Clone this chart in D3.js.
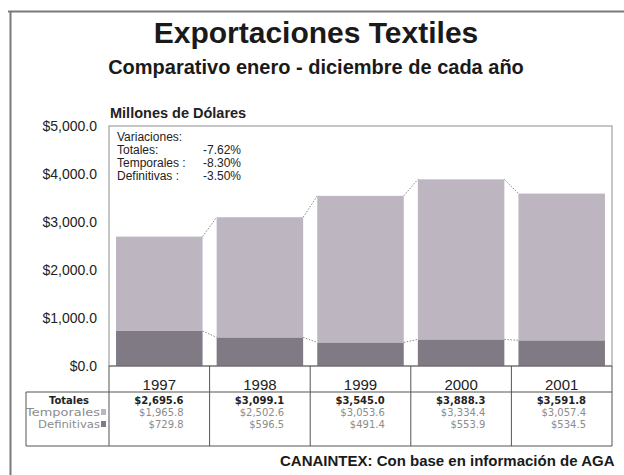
<!DOCTYPE html>
<html>
<head>
<meta charset="utf-8">
<script src="https://cdn.jsdelivr.net/npm/d3@7"></script>
<style>
  html, body { margin: 0; padding: 0; background: #fff; overflow: hidden; }
  svg { display: block; font-family: Arial, "Liberation Sans", sans-serif; }
</style>
</head>
<body>
<svg id="chart" width="624" height="475"></svg>
<script>
// Exportaciones textiles, millones de dólares
const years = ["1997", "1998", "1999", "2000", "2001"];
const temporales = [1965.8, 2502.6, 3053.6, 3334.4, 3057.4];
const definitivas = [729.8, 596.5, 491.4, 553.9, 534.5];
const totales = [2695.6, 3099.1, 3545.0, 3888.3, 3591.8];
const yTicks = [0, 1000, 2000, 3000, 4000, 5000];
const variaciones = [
  ["Totales:", "-7.62%"],
  ["Temporales :", "-8.30%"],
  ["Definitivas :", "-3.50%"]
];

const colTemp = "#bdb6c0";
const colDef = "#807a84";
const ink = "#1a1a1a";
const grayInk = "#8c8c8c";
const tableFont = "'DejaVu Sans', Verdana, sans-serif";

const svg = d3.select("#chart");

const plot = { left: 109, right: 612, top: 126, bottom: 366 };

const x = d3.scaleBand()
  .domain(years)
  .range([plot.left, plot.right])
  .paddingInner(0.14)
  .paddingOuter(0.07);

const y = d3.scaleLinear()
  .domain([0, 5000])
  .range([plot.bottom, plot.top]);

const fmtMoney = d => "$" + d3.format(",.1f")(d);

// outer frame
svg.append("line").attr("x1", 8).attr("x2", 624).attr("y1", 11.5).attr("y2", 11.5)
  .attr("stroke", "#7a7a7a").attr("stroke-width", 2);
svg.append("line").attr("x1", 10.5).attr("x2", 10.5).attr("y1", 11).attr("y2", 475)
  .attr("stroke", "#7a7a7a").attr("stroke-width", 2);

// titles
svg.append("text").attr("x", 316).attr("y", 43).attr("text-anchor", "middle")
  .attr("font-size", 30).attr("font-weight", "bold").attr("fill", ink)
  .text("Exportaciones Textiles");
svg.append("text").attr("x", 316).attr("y", 74).attr("text-anchor", "middle")
  .attr("font-size", 20).attr("font-weight", "bold").attr("fill", ink)
  .text("Comparativo enero - diciembre de cada año");
svg.append("text").attr("x", 110).attr("y", 118)
  .attr("font-size", 14.5).attr("font-weight", "bold").attr("fill", "#222")
  .text("Millones de Dólares");

// plot area frame
svg.append("rect")
  .attr("x", plot.left).attr("y", plot.top)
  .attr("width", plot.right - plot.left).attr("height", plot.bottom - plot.top)
  .attr("fill", "#fff").attr("stroke", "#a0a0a0").attr("stroke-width", 1.2);

// y axis labels
const yAxis = d3.axisLeft(y).tickValues(yTicks).tickFormat(fmtMoney).tickSize(0).tickPadding(12);
const gy = svg.append("g").attr("transform", `translate(${plot.left},0)`).call(yAxis);
gy.select(".domain").remove();
gy.selectAll("text").attr("font-size", 14).attr("fill", "#222")
  .attr("font-family", "Arial, 'Liberation Sans', sans-serif");

// stacked bars
const rows = years.map((yr, i) => ({ yr, def: definitivas[i], temp: temporales[i] }));
const bars = svg.append("g");
bars.selectAll("rect.def").data(rows).join("rect")
  .attr("class", "def")
  .attr("x", d => x(d.yr)).attr("width", x.bandwidth())
  .attr("y", d => y(d.def)).attr("height", d => y(0) - y(d.def))
  .attr("fill", colDef);
bars.selectAll("rect.temp").data(rows).join("rect")
  .attr("class", "temp")
  .attr("x", d => x(d.yr)).attr("width", x.bandwidth())
  .attr("y", d => y(d.def + d.temp)).attr("height", d => y(d.def) - y(d.def + d.temp))
  .attr("fill", colTemp);

// series connector lines between adjacent bars
const links = svg.append("g").attr("stroke", "#8a8a8a").attr("stroke-width", 1)
  .attr("stroke-dasharray", "1.5,1.5");
for (let i = 0; i < rows.length - 1; i++) {
  const a = rows[i], b = rows[i + 1];
  links.append("line")
    .attr("x1", x(a.yr) + x.bandwidth()).attr("x2", x(b.yr))
    .attr("y1", y(a.def + a.temp)).attr("y2", y(b.def + b.temp));
  links.append("line")
    .attr("x1", x(a.yr) + x.bandwidth()).attr("x2", x(b.yr))
    .attr("y1", y(a.def)).attr("y2", y(b.def));
}

// variation notes
const notes = svg.append("g").attr("font-size", 12).attr("fill", "#222");
notes.append("text").attr("x", 117).attr("y", 141).text("Variaciones:");
variaciones.forEach((v, i) => {
  notes.append("text").attr("x", 117).attr("y", 154 + i * 13).text(v[0]);
  notes.append("text").attr("x", 203).attr("y", 154 + i * 13).text(v[1]);
});

// data table under the axis
const table = svg.append("g").attr("stroke", "#555").attr("stroke-width", 1);
const tTop = 392, tBottom = 446, tLeft = 26;
table.append("line").attr("x1", plot.left).attr("x2", plot.right).attr("y1", plot.bottom).attr("y2", plot.bottom).attr("stroke", "#666");
table.append("line").attr("x1", tLeft).attr("x2", plot.right).attr("y1", tTop).attr("y2", tTop);
table.append("line").attr("x1", tLeft).attr("x2", plot.right).attr("y1", tBottom).attr("y2", tBottom);
table.append("line").attr("x1", tLeft).attr("x2", tLeft).attr("y1", tTop).attr("y2", tBottom);
const bounds = years.map(yr => x(yr) - x.step() * x.paddingInner() / 2);
bounds.push(plot.right);
bounds.forEach(bx => {
  table.append("line").attr("x1", bx).attr("x2", bx).attr("y1", plot.bottom).attr("y2", tBottom);
});

// year labels
svg.append("g").selectAll("text").data(years).join("text")
  .attr("x", d => x(d) + x.bandwidth() / 2).attr("y", 389.5)
  .attr("text-anchor", "middle").attr("font-size", 15).attr("fill", "#222")
  .text(d => d);

// row labels with legend keys
const rowY = [404, 416, 428];
svg.append("text").attr("x", 69).attr("y", rowY[0]).attr("text-anchor", "middle")
  .attr("font-family", tableFont).attr("font-size", 10).attr("font-weight", "bold")
  .attr("fill", "#222").text("Totales");
svg.append("text").attr("x", 100).attr("y", rowY[1]).attr("text-anchor", "end")
  .attr("font-family", tableFont).attr("font-size", 10).attr("fill", grayInk)
  .attr("textLength", 74).attr("lengthAdjust", "spacingAndGlyphs").text("Temporales");
svg.append("rect").attr("x", 101).attr("y", rowY[1] - 7).attr("width", 5).attr("height", 6).attr("fill", colTemp);
svg.append("text").attr("x", 100).attr("y", rowY[2]).attr("text-anchor", "end")
  .attr("font-family", tableFont).attr("font-size", 10).attr("fill", grayInk)
  .attr("textLength", 62).attr("lengthAdjust", "spacingAndGlyphs").text("Definitivas");
svg.append("rect").attr("x", 101).attr("y", rowY[2] - 7).attr("width", 5).attr("height", 6).attr("fill", colDef);

// table values, right aligned in each column
const cells = svg.append("g").attr("text-anchor", "end")
  .attr("font-family", tableFont).attr("font-size", 10);
years.forEach((yr, i) => {
  const rx = x(yr) + x.bandwidth() + x.step() * x.paddingInner() / 2 - 26;
  cells.append("text").attr("x", rx).attr("y", rowY[0]).attr("font-weight", "bold").attr("fill", "#222").text(fmtMoney(totales[i]));
  cells.append("text").attr("x", rx).attr("y", rowY[1]).attr("fill", grayInk).text(fmtMoney(temporales[i]));
  cells.append("text").attr("x", rx).attr("y", rowY[2]).attr("fill", grayInk).text(fmtMoney(definitivas[i]));
});

// source
svg.append("text").attr("x", 280).attr("y", 466)
  .attr("font-size", 15).attr("font-weight", "bold").attr("fill", ink)
  .text("CANAINTEX: Con base en información de AGA");
</script>
</body>
</html>
